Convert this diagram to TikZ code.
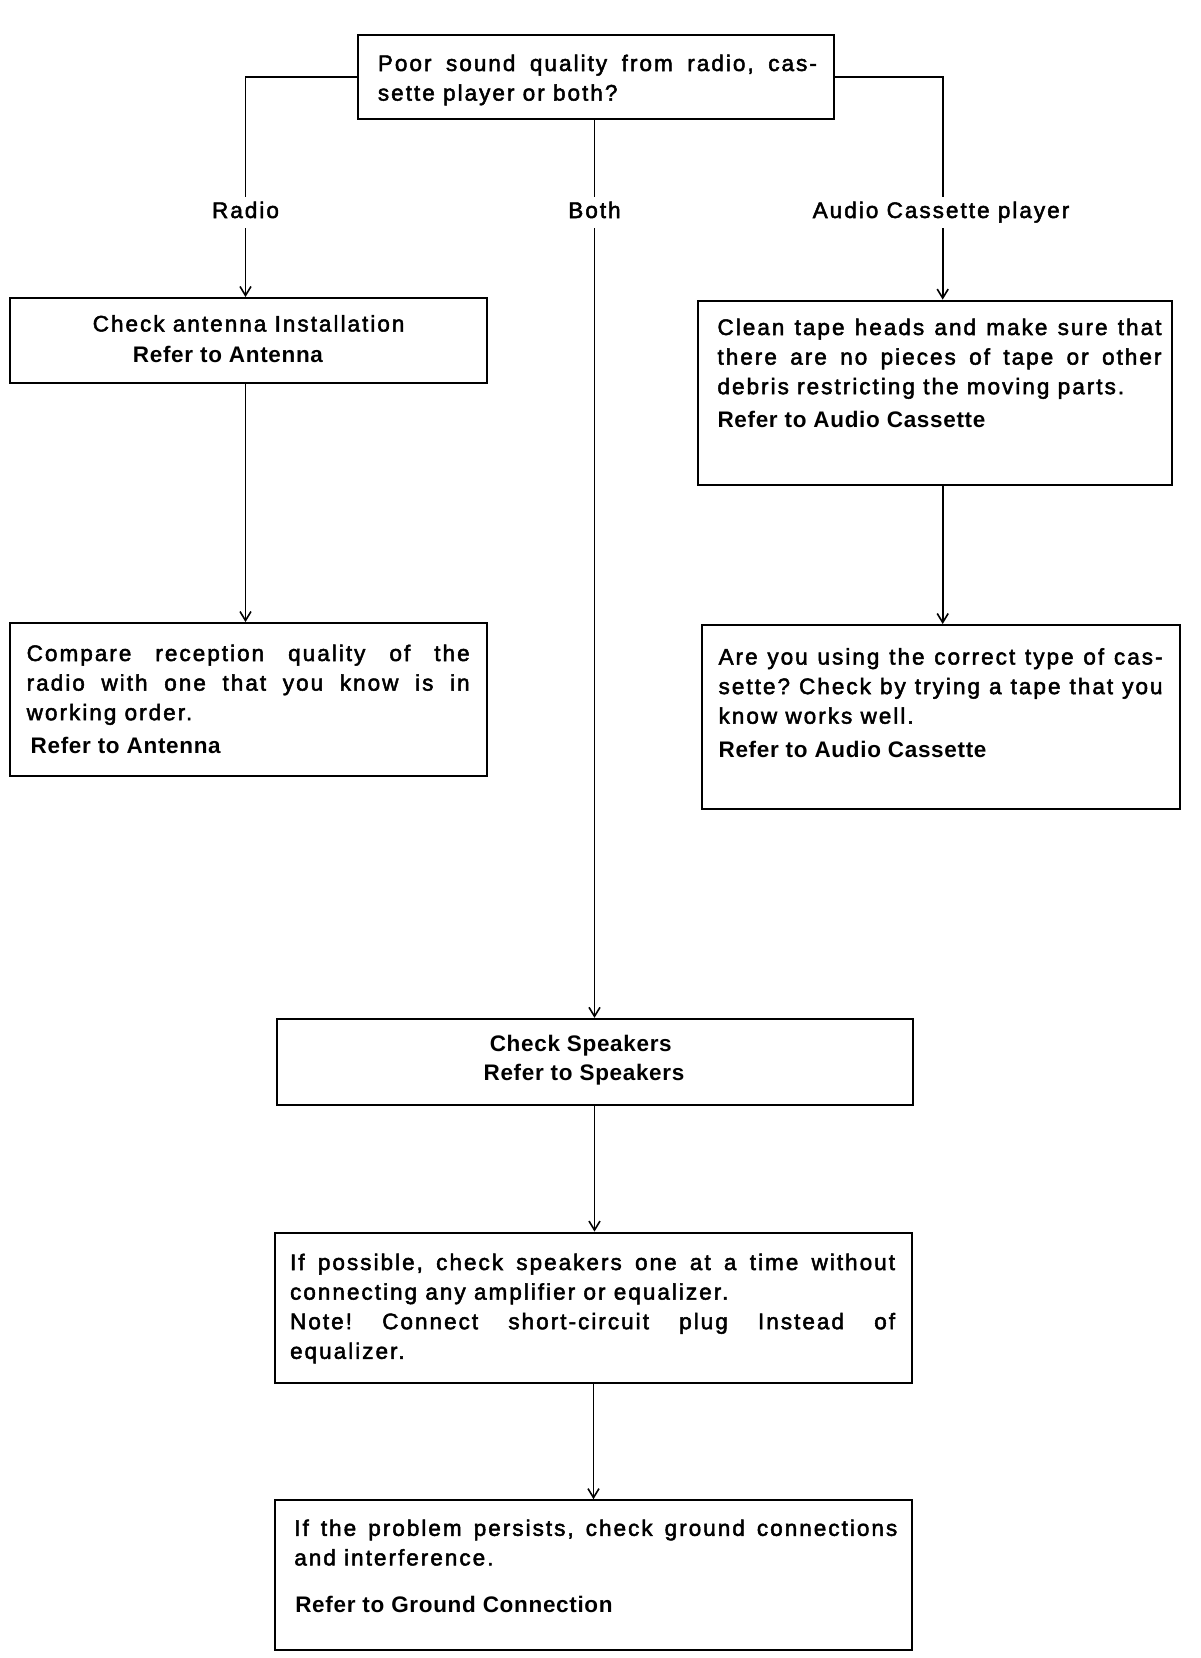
\documentclass[tikz,border=0pt]{standalone}
\usepackage{fontspec}
\setmainfont{Liberation Sans}[LetterSpace=9,Ligatures=NoCommon,FakeBold=2.2]
\newfontfamily\boldf{Liberation Sans Bold}[LetterSpace=3,Ligatures=NoCommon]
\usetikzlibrary{arrows.meta}
\newcommand\J[1]{\makebox[\linewidth][s]{#1}}
\newcommand\B[1]{{\boldf #1}}
\frenchspacing
\tikzset{
  box/.style={draw, line width=2pt, inner sep=0pt},
  wire/.style={line width=1.9pt},
  conn/.style={line width=1.9pt, -{Straight Barb[length=9pt,width=11pt,line width=1.6pt]}},
  txt/.style={anchor=base west, inner sep=0pt, font=\fontsize{22.5}{29.6}\selectfont},
  ctxt/.style={anchor=base, inner sep=0pt, font=\fontsize{22.5}{29.6}\selectfont},
  lbl/.style={anchor=base, inner xsep=0pt, inner ysep=5pt, text height=16pt, text depth=5pt, font=\fontsize{22.5}{29.6}\selectfont}
}
\begin{document}
\begin{tikzpicture}[x=1pt,y=-1pt]
\useasboundingbox[fill=white] (0,0) rectangle (1200,1658);
% boxes
\node[box, minimum width=476pt, minimum height=84pt] (top) at (596,77) {};
\node[box, minimum width=477pt, minimum height=85pt] (ant) at (248.3,340.5) {};
\node[box, minimum width=477pt, minimum height=152.5pt] (cmp) at (248.3,699.3) {};
\node[box, minimum width=474.3pt, minimum height=184pt] (clean) at (935.2,392.6) {};
\node[box, minimum width=478pt, minimum height=184.4pt] (are) at (940.7,717.2) {};
\node[box, minimum width=635.8pt, minimum height=85.7pt] (spk) at (595.1,1061.7) {};
\node[box, minimum width=637pt, minimum height=150.2pt] (poss) at (593.5,1307.7) {};
\node[box, minimum width=637pt, minimum height=150.3pt] (gnd) at (593.5,1575.3) {};
% branch labels
\node[lbl] (lblR) at (245.5,218) {Radio};
\node[lbl] (lblB) at (594.5,218) {Both};
\node[lbl] (lblA) at (941,218) {Audio Cassette player};
% texts
\node[txt] (tTop) at (377.7,71) {\parbox[t]{439pt}{\J{Poor sound quality from radio, cas-}\\sette player or both?}};
\node[ctxt] (tAnt1) at (248.6,331.5) {Check antenna Installation};
\node[ctxt] (tAnt2) at (228,362) {\B{Refer to Antenna}};
\node[txt] (tCmp) at (26.5,661) {\parbox[t]{443pt}{\J{Compare reception quality of the}\\\J{radio with one that you know is in}\\working order.\\[3.2pt]\hspace*{4pt}\B{Refer to Antenna}}};
\node[txt] (tClean) at (717.3,335) {\parbox[t]{444pt}{\J{Clean tape heads and make sure that}\\\J{there are no pieces of tape or other}\\debris restricting the moving parts.\\[3.8pt]\B{Refer to Audio Cassette}}};
\node[txt] (tAre) at (718.4,664.5) {\parbox[t]{444pt}{\J{Are you using the correct type of cas-}\\\J{sette? Check by trying a tape that you}\\know works well.\\[4.2pt]\B{Refer to Audio Cassette}}};
\node[ctxt] (tSpk1) at (580.8,1051) {\B{Check Speakers}};
\node[ctxt] (tSpk2) at (584,1080.6) {\B{Refer to Speakers}};
\node[txt] (tPoss) at (289.9,1270) {\parbox[t]{605pt}{\J{If possible, check speakers one at a time without}\\connecting any amplifier or equalizer.\\\J{Note! Connect short-circuit plug Instead of}\\equalizer.}};
\node[txt] (tGnd) at (294.1,1535.8) {\parbox[t]{603pt}{\J{If the problem persists, check ground connections}\\and interference.\\[17pt]\hspace*{1pt}\B{Refer to Ground Connection}}};
% connectors
\draw[wire] (top.west) -| (lblR.north);
\draw[conn] (lblR.south) -- (lblR.south |- ant.north);
\draw[wire] (top.east) -| ([xshift=1.7pt]lblA.north);
\draw[conn] ([xshift=1.7pt]lblA.south) -- ([xshift=1.7pt]lblA.south |- clean.north);
\draw[wire] (top.south -| lblB) -- (lblB.north);
\draw[conn] (lblB.south) -- (lblB.south |- spk.north);
\draw[conn] (lblR |- ant.south) -- (lblR |- cmp.north);
\draw[conn] ([xshift=1.7pt]lblA.south |- clean.south) -- ([xshift=1.7pt]lblA.south |- are.north);
\draw[conn] (spk.south -| lblB) -- (lblB |- poss.north);
\draw[conn] (poss.south) -- (poss.south |- gnd.north);
\end{tikzpicture}
\end{document}
